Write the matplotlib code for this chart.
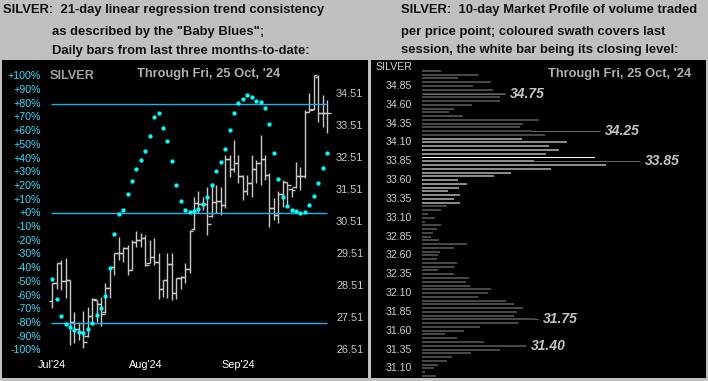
import matplotlib
matplotlib.use("Agg")
import matplotlib.pyplot as plt
from matplotlib.transforms import blended_transform_factory as blend

W, H = 708, 381
plt.rcParams.update({
    "font.family": ["Liberation Sans", "DejaVu Sans"],
    "figure.dpi": 100,
})
BG, CYAN, BAND, BARC = "#c0c0c0", "#00ffff", "#1ab4ea", "#c8c8c8"

# ---- left panel: daily bars + "Baby Blues" (%)
OPEN = [28.05, 28.60, 29.23, 28.68, 28.71, 27.40, 27.16, 27.09, 26.95, 27.58,
        28.08, 27.95, 27.70, 28.45, 29.12, 29.54, 29.54, 29.69, 29.02, 29.90,
        29.96, 30.03, 29.25, 29.43, 29.28, 28.41, 28.71, 29.20, 28.31, 28.76,
        28.79, 29.04, 30.30, 31.10, 31.08, 31.08, 30.70, 31.15, 31.17, 31.05,
        32.48, 32.17, 32.35, 31.94, 31.47, 31.75, 32.17, 32.35, 32.48, 31.99,
        30.94, 30.74, 31.39, 31.78, 31.55, 31.60, 31.94, 31.96, 33.97, 34.05,
        35.05, 33.91, 33.91]
HIGH = [28.62, 29.25, 29.33, 29.38, 28.71, 27.69, 27.40, 27.72, 27.87, 28.13,
        28.08, 28.18, 28.60, 29.12, 29.54, 30.06, 29.75, 29.80, 29.96, 30.22,
        30.16, 30.11, 29.96, 30.01, 29.54, 28.71, 29.54, 29.54, 28.76, 28.83,
        29.23, 30.27, 31.31, 31.47, 31.31, 31.62, 31.73, 31.67, 31.62, 32.61,
        32.61, 33.08, 32.61, 31.99, 31.99, 32.61, 32.46, 33.24, 32.61, 32.04,
        31.26, 31.47, 31.83, 31.78, 31.57, 32.40, 32.25, 34.02, 34.54, 35.11,
        35.11, 34.49, 34.33]
LOW = [27.82, 28.41, 28.39, 28.13, 26.67, 26.73, 26.83, 26.57, 26.93, 27.30,
       27.40, 27.28, 27.66, 28.13, 28.86, 29.33, 29.28, 28.86, 29.02, 29.75,
       29.75, 29.14, 29.23, 29.17, 28.10, 28.18, 28.15, 28.08, 28.10, 28.41,
       28.60, 28.91, 30.27, 30.79, 30.89, 30.11, 30.68, 30.79, 30.74, 30.94,
       31.91, 32.09, 31.73, 31.21, 31.36, 31.31, 31.73, 31.67, 31.83, 30.37,
       30.58, 30.48, 30.98, 30.98, 31.31, 31.57, 31.52, 31.88, 33.97, 34.02,
       33.65, 33.50, 33.29]
CLOSE = [28.60, 29.23, 28.68, 28.71, 27.40, 27.16, 27.09, 26.75, 27.58, 28.10,
         27.95, 27.64, 28.45, 29.12, 29.54, 29.54, 29.69, 29.02, 29.90, 29.96,
         30.03, 29.17, 29.43, 29.28, 28.41, 28.71, 29.20, 28.31, 28.76, 28.79,
         29.04, 30.25, 31.10, 31.08, 31.08, 30.44, 31.15, 31.17, 31.05, 32.48,
         32.17, 32.35, 31.94, 31.47, 31.75, 32.17, 32.35, 32.48, 31.99, 30.94,
         30.74, 31.39, 31.78, 31.67, 31.52, 31.94, 31.96, 33.97, 34.02, 35.11,
         33.91, 33.91, 33.91]
BLUES = [-48.0, -62.6, -75.0, -80.8, -82.8, -85.2, -86.4, -87.1, -84.2, -79.8,
         -74.2, -68.9, -60.1, -39.7, -14.9, -0.3, 2.4, 14.1, 23.6, 32.6,
         39.2, 45.8, 56.7, 70.6, 73.5, 62.6, 53.1, 38.5, 20.7, 9.3,
         2.6, 1.2, 1.9, 3.4, 7.0, 12.1, 20.7, 31.1, 37.7, 46.9,
         61.0, 73.5, 80.7, 83.7, 86.6, 85.1, 82.2, 81.5, 77.1, 65.4,
         44.3, 25.3, 12.1, 5.6, 2.6, 1.9, 0.4, 1.2, 6.3, 12.9,
         22.4, 33.3, 44.3]
PCT_TICKS = [100, 90, 80, 70, 60, 50, 40, 30, 20, 10, 0,
             -10, -20, -30, -40, -50, -60, -70, -80, -90, -100]
PCT_LABELS = ["+100%", "+90%", "+80%", "+70%", "+60%", "+50%", "+40%",
              "+30%", "+20%", "+10%", "+0%", "-10%", "-20%", "-30%", "-40%",
              "-50%", "-60%", "-70%", "-80%", "-90%", "-100%"]
PRICE_TICKS = [34.51, 33.51, 32.51, 31.51, 30.51, 29.51, 28.51, 27.51, 26.51]
BANDS = [80, 0, -80]
MONTHS = ["Jul'24", "Aug'24", "Sep'24"]
MONTH_POS = [0, 21, 42]

# ---- right panel: 10-day market profile
PROFILE_LEVELS = [35.05, 35.00, 34.95, 34.90, 34.85, 34.80, 34.75, 34.70, 34.65,
                  34.60, 34.55, 34.50, 34.45, 34.40, 34.35, 34.30, 34.25, 34.20,
                  34.15, 34.10, 34.05, 34.00, 33.95, 33.90, 33.85, 33.80, 33.75,
                  33.70, 33.65, 33.60, 33.55, 33.50, 33.45, 33.40, 33.35, 33.30,
                  33.25, 33.20, 33.15, 33.10, 33.05, 33.00, 32.95, 32.90, 32.85,
                  32.80, 32.75, 32.70, 32.65, 32.60, 32.55, 32.50, 32.45, 32.40,
                  32.35, 32.30, 32.25, 32.20, 32.15, 32.10, 32.05, 32.00, 31.95,
                  31.90, 31.85, 31.80, 31.75, 31.70, 31.65, 31.60, 31.55, 31.50,
                  31.45, 31.40, 31.35, 31.30, 31.25, 31.20, 31.15, 31.10, 31.05,
                  31.00]
PROFILE_VOL = [19, 56, 36, 69, 51, 71, 83, 78, 78,
               50, 32, 27, 41, 117, 101, 98, 110, 123,
               100, 145, 127, 137, 124, 173, 112, 184, 129,
               89, 72, 36, 45, 37, 26, 38, 32, 38,
               25, 19, 6, 13, 3, 19, 15, 11, 9,
               17, 45, 32, 18, 16, 15, 35, 32, 16,
               32, 47, 44, 48, 69, 66, 56, 84, 92,
               101, 95, 92, 113, 96, 58, 42, 23, 35,
               62, 104, 78, 49, 30, 25, 16, 12, 3,
               14]
SWATH_HI, SWATH_LO, CLOSE_LEVEL = 34.15, 33.30, 33.90
PROFILE_TICKS = [34.85, 34.60, 34.35, 34.10, 33.85, 33.60, 33.35, 33.10,
                 32.85, 32.60, 32.35, 32.10, 31.85, 31.60, 31.35, 31.10]
MARKS = [34.75, 34.25, 33.85, 31.75, 31.40]
MARK_REACH = [83, 178, 218, 116, 104]


def px_axes(fig, x0, y0, x1, y1):
    ax = fig.add_axes([x0 / W, 1 - y1 / H, (x1 - x0) / W, (y1 - y0) / H])
    ax.set_facecolor("black")
    ax.set_xticks([])
    ax.set_yticks([])
    for s in ax.spines.values():
        s.set_visible(False)
    return ax


def ftext(fig, x, y, s, **kw):
    fig.text(x / W, 1 - y / H, s, va="center", **kw)


fig = plt.figure(figsize=(W / 100, H / 100), facecolor=BG)

# titles
tkw = dict(fontsize=9.4, weight="bold", color="#101010")
ftext(fig, 3, 10, "SILVER:  21-day linear regression trend consistency", **tkw)
ftext(fig, 52, 31.5, "as described by the \"Baby Blues\";", **tkw)
ftext(fig, 52, 51, "Daily bars from last three months-to-date:", **tkw)
ftext(fig, 401, 10, "SILVER:  10-day Market Profile of volume traded", **tkw)
ftext(fig, 401, 31.5, "per price point; coloured swath covers last", **tkw)
ftext(fig, 401, 50.5, "session, the white bar being its closing level:", **tkw)

# ---------------- left panel
ax = px_axes(fig, 2, 60, 368, 378)
ax.set_xlim(-11.354, 71.26)
ax.set_ylim(25.64, 35.58)
axp = ax.twinx()
axp.set_ylim(-120.2, 111.9)
axp.set_yticks([])
for s in axp.spines.values():
    s.set_visible(False)

x = list(range(len(CLOSE)))
axp.hlines(BANDS, -0.4, 62, color=BAND, lw=1.0, zorder=1)
ax.vlines(x, LOW, HIGH, color=BARC, lw=1.0, zorder=2)
ax.hlines(OPEN, [i - 0.8 for i in x], x, color=BARC, lw=1.0, zorder=2)
ax.hlines(CLOSE, x, [i + 0.8 for i in x], color=BARC, lw=1.0, zorder=2)
axp.plot(x, BLUES, "o", ms=3.1, color=CYAN, mec="none", zorder=5)

tp = blend(ax.transAxes, axp.transData)
for v, lab in zip(PCT_TICKS, PCT_LABELS):
    axp.text(0.1066, v, lab, transform=tp, ha="right", va="center",
             fontsize=7.7, color="#33ddff")
tq = blend(ax.transAxes, ax.transData)
for v in PRICE_TICKS:
    ax.text(0.9126, v, f"{v:.2f}", transform=tq, ha="left", va="center",
            fontsize=7.8, color="#c8c8c8")
tm = blend(ax.transData, ax.transAxes)
for m, p in zip(MONTHS, MONTH_POS):
    ax.text(p, 0.041, m, transform=tm, ha="center", va="center",
            fontsize=7.8, color="white")

ftext(fig, 50, 76, "SILVER", fontsize=9.2, weight="bold", color="#a0a0a0")
ftext(fig, 137, 73.5, "Through Fri, 25 Oct, '24", fontsize=9.3,
      weight="bold", color="#b0b0b0")

# ---------------- right panel
ar = px_axes(fig, 371, 60, 706, 378)
ar.set_xlim(-51, 284)
ar.set_ylim(30.972, 35.195)

colors = []
for p in PROFILE_LEVELS:
    if abs(p - CLOSE_LEVEL) < 1e-6:
        colors.append("white")
    elif SWATH_LO - 1e-6 <= p <= SWATH_HI + 1e-6:
        colors.append("#8a8a8a")
    else:
        colors.append("#474747")
ar.hlines(MARKS, 0, MARK_REACH, color="#6a6a6a", lw=0.7, zorder=1)
ar.barh(PROFILE_LEVELS, PROFILE_VOL, height=0.026, color=colors,
        left=0, zorder=2)
for p, r in zip(MARKS, MARK_REACH):
    ar.text(r + 5, p, f"{p:.2f}", ha="left", va="center", fontsize=10,
            weight="bold", style="italic", color="#c4c4c4")

tr = blend(ar.transAxes, ar.transData)
for v in PROFILE_TICKS:
    ar.text(0.1224, v, f"{v:.2f}", transform=tr, ha="right", va="center",
            fontsize=7.6, color="#cfcfcf")
ftext(fig, 412, 67.5, "SILVER", fontsize=7.6, color="#cfcfcf", ha="right")
ftext(fig, 548, 73.5, "Through Fri, 25 Oct, '24", fontsize=9.3,
      weight="bold", color="#b0b0b0")

fig.savefig("out.png", dpi=100, facecolor=BG)
